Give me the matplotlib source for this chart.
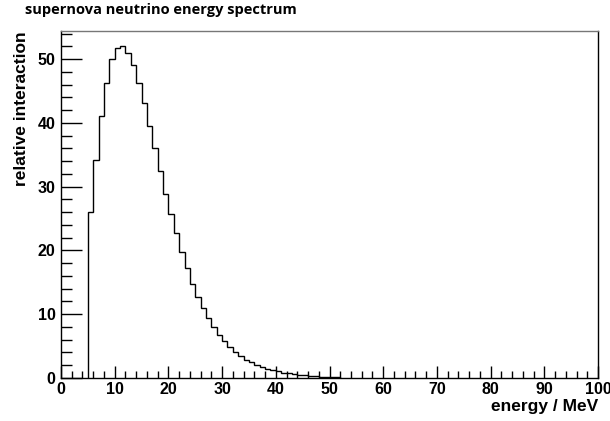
import numpy as np
import matplotlib
matplotlib.use("Agg")
import matplotlib.pyplot as plt
from matplotlib.ticker import MultipleLocator
from matplotlib.font_manager import FontProperties

# histogram data (1 MeV bins starting at 5 MeV)
bin_start = 5
bin_width = 1
counts = [26.0, 34.2, 41.1, 46.3, 50.0, 51.7, 52.0, 50.9, 49.1, 46.3,
          43.1, 39.5, 36.0, 32.4, 28.9, 25.7, 22.7, 19.8, 17.2, 14.8,
          12.7, 10.9, 9.4, 8.0, 6.8, 5.8, 4.9, 4.1, 3.4, 2.9,
          2.5, 2.0, 1.7, 1.45, 1.22, 1.02, 0.86, 0.72, 0.6, 0.5,
          0.42, 0.34, 0.28, 0.23, 0.19, 0.15, 0.12]

title = "supernova neutrino energy spectrum"
xlabel = "energy / MeV"
ylabel = "relative interaction"

edges = bin_start + bin_width * np.arange(len(counts) + 1)

fig = plt.figure(figsize=(6.1, 4.21), dpi=100)
ax = fig.add_axes([61/610, 43/421, 537/610, 347/421])

ax.stairs(counts, edges, color="black", lw=1.0, baseline=0)

ax.set_xlim(0, 100)
ax.set_ylim(0, 54.4)

ax.xaxis.set_major_locator(MultipleLocator(10))
ax.xaxis.set_minor_locator(MultipleLocator(2))
ax.yaxis.set_major_locator(MultipleLocator(10))
ax.yaxis.set_minor_locator(MultipleLocator(2))

tickfont = FontProperties(family="Liberation Sans", weight="bold", size=11.5)
ax.tick_params(axis="both", which="both", direction="in", top=False, right=False)
ax.tick_params(axis="x", which="major", length=9, width=1, pad=3)
ax.tick_params(axis="x", which="minor", length=5, width=1)
ax.tick_params(axis="y", which="major", length=15, width=1, pad=4)
ax.tick_params(axis="y", which="minor", length=8, width=1)
for lab in ax.get_xticklabels() + ax.get_yticklabels():
    lab.set_fontproperties(tickfont)

for s in ax.spines.values():
    s.set_linewidth(1.0)
ax.spines["top"].set_color("#777777")
ax.spines["right"].set_color("black")

labfont = dict(family="Liberation Sans", weight="bold", size=12.5)
ax.set_xlabel(xlabel, fontdict=labfont, loc="right", labelpad=1)
ax.set_ylabel(ylabel, fontdict=labfont, loc="top", labelpad=6)

fig.text(25/610, 1 - 10/421, title, family="Open Sans", weight="bold",
         size=10.5, ha="left", va="center")

fig.savefig("out.png", dpi=100)
